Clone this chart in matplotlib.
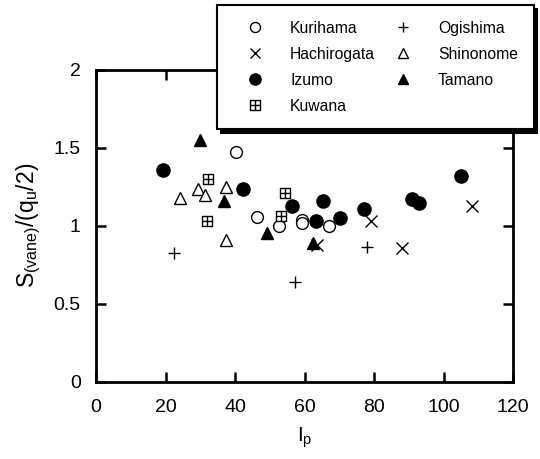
import matplotlib
matplotlib.use("Agg")
import numpy as np
import matplotlib.pyplot as plt
from matplotlib.path import Path

plt.rcParams['font.family'] = ['Liberation Sans', 'DejaVu Sans']
plt.rcParams['mathtext.fontset'] = 'custom'
plt.rcParams['mathtext.rm'] = 'Liberation Sans'
plt.rcParams['mathtext.it'] = 'Liberation Sans'

# data (Ip, S(vane)/(qu/2))
kurihama_x = [40.3, 46.4, 52.6, 59.2, 59.4, 67.1]
kurihama_y = [1.47, 1.056, 0.996, 1.035, 1.02, 0.996]

hachirogata_x = [63.5, 79.0, 88.0, 108.1]
hachirogata_y = [0.878, 1.028, 0.861, 1.13]

izumo_x = [19.2, 42.4, 56.4, 63.2, 65.2, 70.2, 77.1, 90.8, 93.0, 105.0]
izumo_y = [1.36, 1.235, 1.13, 1.034, 1.156, 1.047, 1.107, 1.173, 1.145, 1.32]

kuwana_x = [32.3, 31.8, 53.3, 54.4]
kuwana_y = [1.30, 1.034, 1.064, 1.209]

ogishima_x = [22.3, 57.3, 77.9]
ogishima_y = [0.825, 0.643, 0.863]

shinonome_x = [24.2, 29.2, 31.4, 37.3, 37.3]
shinonome_y = [1.18, 1.235, 1.20, 1.25, 0.906]

tamano_x = [29.9, 36.9, 49.1, 62.5]
tamano_y = [1.55, 1.156, 0.957, 0.89]

xticks = [0, 20, 40, 60, 80, 100, 120]
yticks = [0, 0.5, 1, 1.5, 2]
ytick_labels = ["0", "0.5", "1", "1.5", "2"]

# square with a cross inside
box_plus = Path(
    [(-1, -1), (1, -1), (1, 1), (-1, 1), (-1, -1),
     (0, -1), (0, 1), (-1, 0), (1, 0)],
    [Path.MOVETO, Path.LINETO, Path.LINETO, Path.LINETO, Path.CLOSEPOLY,
     Path.MOVETO, Path.LINETO, Path.MOVETO, Path.LINETO])

fig = plt.figure(figsize=(5.4, 4.59), dpi=100)
ax = fig.add_axes([0.178, 0.168, 0.772, 0.68])

k = dict(linestyle="none", color="black")
h1, = ax.plot(kurihama_x, kurihama_y, marker="o", ms=8.5, mfc="white", mew=1.0, label="Kurihama", **k)
h2, = ax.plot(hachirogata_x, hachirogata_y, marker="x", ms=8.5, mew=1.0, label="Hachirogata", **k)
h3, = ax.plot(izumo_x, izumo_y, marker="o", ms=9.5, label="Izumo", **k)
h4, = ax.plot(kuwana_x, kuwana_y, marker=box_plus, ms=7.8, mfc="white", mew=1.0, label="Kuwana", **k)
h5, = ax.plot(ogishima_x, ogishima_y, marker="+", ms=8.5, mew=1.0, label="Ogishima", **k)
h6, = ax.plot(shinonome_x, shinonome_y, marker="^", ms=8, mfc="white", mew=1.0, label="Shinonome", **k)
h7, = ax.plot(tamano_x, tamano_y, marker="^", ms=8.5, label="Tamano", **k)

ax.set_xlim(0, 120)
ax.set_ylim(0, 2)
ax.set_xticks(xticks)
ax.set_xticklabels([str(t) for t in xticks])
ax.set_yticks(yticks)
ax.set_yticklabels(ytick_labels)
ax.tick_params(direction="in", length=7, width=1.8, top=True, right=True,
               labelsize=14)
ax.tick_params(axis="x", pad=12)
ax.tick_params(axis="y", pad=11)
for s in ax.spines.values():
    s.set_linewidth(2.0)

ax.set_xlabel(r"$\mathregular{I_p}$", fontsize=15, labelpad=7)
ax.set_ylabel(r"$\mathregular{S_{(vane)}/(q_u/2)}$", fontsize=16.5, labelpad=8)

leg = fig.legend(handles=[h1, h2, h3, h4, h5, h6, h7], ncol=2,
                 loc="upper left", bbox_to_anchor=(0.402, 0.989),
                 borderaxespad=0, fontsize=11.3, frameon=True, fancybox=False,
                 edgecolor="black", labelspacing=0.7, handlelength=2.8,
                 handletextpad=0.85, columnspacing=0.35, borderpad=1.0,
                 markerscale=0.85,
                 shadow={"color": "black", "alpha": 1.0, "ox": 2.5, "oy": -2.5})
leg.get_frame().set_linewidth(1.5)

plt.savefig("out.png", dpi=100, facecolor="white")
